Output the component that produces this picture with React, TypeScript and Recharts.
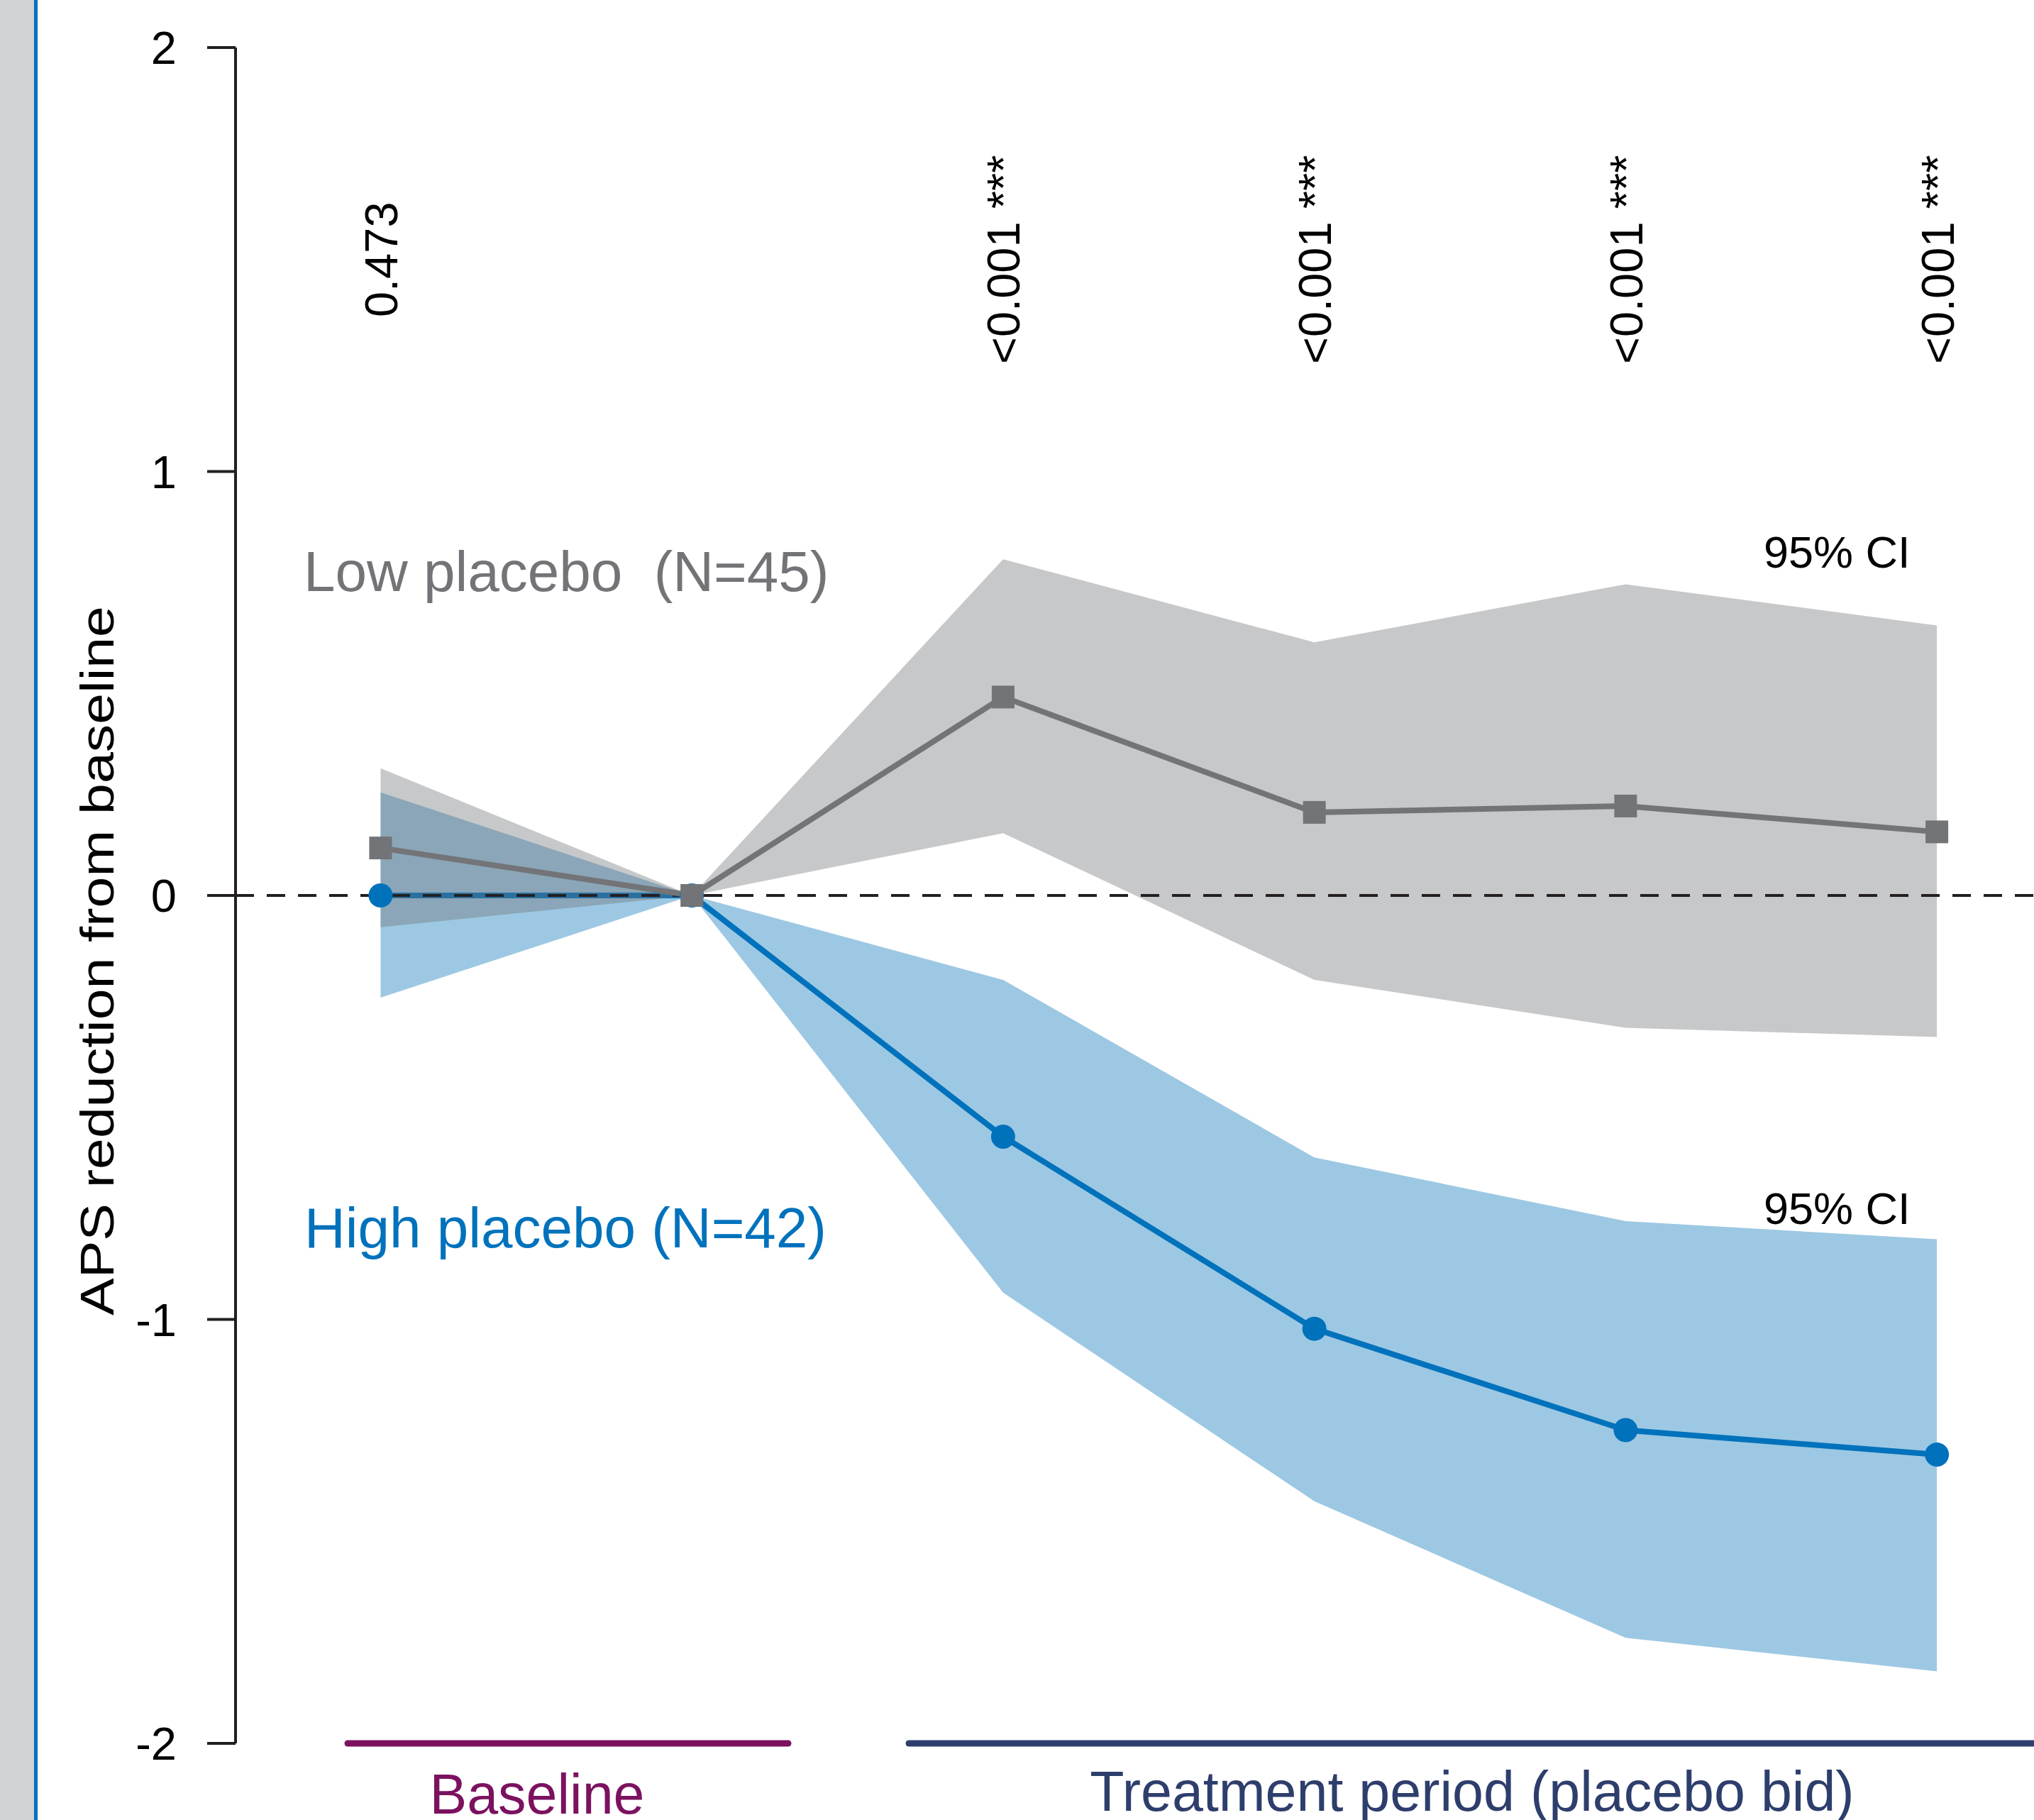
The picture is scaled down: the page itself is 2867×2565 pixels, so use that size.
import React from 'react'
import {
  ComposedChart, Area, Line, XAxis, YAxis, ReferenceLine, Scatter,
} from 'recharts'

/* ── Data (APS reduction from baseline, per visit) ── */

const TIMEPOINTS = [0, 1, 2, 3, 4, 5]

const LOW_MEAN = [0.112, 0, 0.468, 0.196, 0.211, 0.15]
const LOW_CI_LO = [-0.075, 0, 0.147, -0.199, -0.312, -0.334]
const LOW_CI_HI = [0.3, 0, 0.793, 0.597, 0.734, 0.637]

const HIGH_MEAN = [0, 0, -0.569, -1.022, -1.261, -1.319]
const HIGH_CI_LO = [-0.241, 0, -0.937, -1.429, -1.751, -1.83]
const HIGH_CI_HI = [0.243, 0, -0.199, -0.618, -0.768, -0.811]

const P_VALUES = ['0.473', '', '<0.001 ***', '<0.001 ***', '<0.001 ***', '<0.001 ***']
const Y_TICKS = [-2, -1, 0, 1, 2]

/* ── Style ── */

const W = 2867
const H = 2565
const FONT = '"Liberation Sans", Arial, Helvetica, sans-serif'
const INK = '#231f20'
const GREY = '#737477'
const BLUE = '#0072bc'
const BLUE_BAND = '#9dc8e3'
const PURPLE = '#7b1260'
const NAVY = '#2e3e6c'
const P_LABEL_Y = 1.5

const rows = TIMEPOINTS.map((t, i) => ({
  t,
  low: LOW_MEAN[i],
  lowCI: [LOW_CI_LO[i], LOW_CI_HI[i]],
  high: HIGH_MEAN[i],
  highCI: [HIGH_CI_LO[i], HIGH_CI_HI[i]],
}))

const pRows = TIMEPOINTS.map((t, i) => ({ t, y: P_LABEL_Y, label: P_VALUES[i] }))

const squareDot = (p: any) => (
  <rect key={`sq-${p.index}`} x={p.cx - 16} y={p.cy - 16} width={32} height={32} fill={GREY} />
)

const circleDot = (p: any) => (
  <circle key={`ci-${p.index}`} cx={p.cx} cy={p.cy} r={17} fill={BLUE} />
)

const pLabel = (p: any) => {
  const { cx, cy, payload } = p
  if (!payload?.label) return <g />
  return (
    <text
      x={cx}
      y={cy}
      dy="0.36em"
      textAnchor="middle"
      transform={`rotate(-90 ${cx} ${cy})`}
      fontSize={65}
      fontFamily={FONT}
      fill="#000"
      style={{ whiteSpace: 'pre' }}
    >
      {payload.label}
    </text>
  )
}

export default function App() {
  return (
    <div style={{ position: 'absolute', left: 0, top: 0, width: W, height: H, background: '#fff', overflow: 'hidden' }}>
      <ComposedChart width={W} height={H} data={rows} margin={{ top: 67, right: 0, bottom: 108, left: 0 }}>
        <XAxis type="number" dataKey="t" domain={[-0.466, 5.312]} hide allowDataOverflow />
        <YAxis
          type="number"
          domain={[-2, 2]}
          ticks={Y_TICKS}
          interval={0}
          width={332}
          tickSize={40}
          tickMargin={43}
          axisLine={{ stroke: INK, strokeWidth: 4 }}
          tickLine={{ stroke: INK, strokeWidth: 4 }}
          tick={{ fill: '#000', fontSize: 65, fontFamily: FONT }}
        />
        <Area
          dataKey="highCI"
          type="linear"
          stroke="none"
          fill={BLUE_BAND}
          fillOpacity={1}
          isAnimationActive={false}
          zIndex={100}
        />
        <Line
          dataKey="high"
          type="linear"
          stroke={BLUE}
          strokeWidth={8}
          dot={circleDot}
          activeDot={false}
          isAnimationActive={false}
          zIndex={110}
        />
        <Area
          dataKey="lowCI"
          type="linear"
          stroke="none"
          fill="#6f7173"
          fillOpacity={0.39}
          isAnimationActive={false}
          zIndex={120}
        />
        <ReferenceLine y={0} stroke={INK} strokeWidth={4} strokeDasharray="26 18" zIndex={130} />
        <Line
          dataKey="low"
          type="linear"
          stroke={GREY}
          strokeWidth={8}
          dot={squareDot}
          activeDot={false}
          isAnimationActive={false}
          zIndex={140}
        />
        <Scatter data={pRows} dataKey="y" shape={pLabel} isAnimationActive={false} zIndex={150} />
      </ComposedChart>

      <svg width={W} height={H} style={{ position: 'absolute', left: 0, top: 0, pointerEvents: 'none' }}>
        <rect x={0} y={0} width={48} height={H} fill="#d0d3d6" />
        <rect x={48} y={0} width={5} height={H} fill={BLUE} />

        <text
          x={160}
          y={1354}
          textAnchor="middle"
          transform="rotate(-90 160 1354)"
          fontSize={67}
          fontFamily={FONT}
          fill="#000"
          textLength={1000}
          lengthAdjust="spacingAndGlyphs"
        >
          APS reduction from baseline
        </text>

        <text x={428} y={833} fontSize={80} fontFamily={FONT} fill={GREY} style={{ whiteSpace: 'pre' }}>
          {'Low placebo  (N=45)'}
        </text>
        <text x={429} y={1758} fontSize={80} fontFamily={FONT} fill={BLUE}>
          High placebo (N=42)
        </text>

        <text x={2486} y={800} fontSize={63} fontFamily={FONT} fill="#000">95% CI</text>
        <text x={2486} y={1725} fontSize={63} fontFamily={FONT} fill="#000">95% CI</text>

        <line x1={490} y1={2457} x2={1111} y2={2457} stroke={PURPLE} strokeWidth={9} strokeLinecap="round" />
        <line x1={1281} y1={2457} x2={2880} y2={2457} stroke={NAVY} strokeWidth={9} strokeLinecap="round" />
        <text x={757} y={2556} textAnchor="middle" fontSize={79} fontFamily={FONT} fill={PURPLE}>Baseline</text>
        <text x={2075} y={2552} textAnchor="middle" fontSize={79} fontFamily={FONT} fill={NAVY}>
          Treatment period (placebo bid)
        </text>
      </svg>
    </div>
  )
}
